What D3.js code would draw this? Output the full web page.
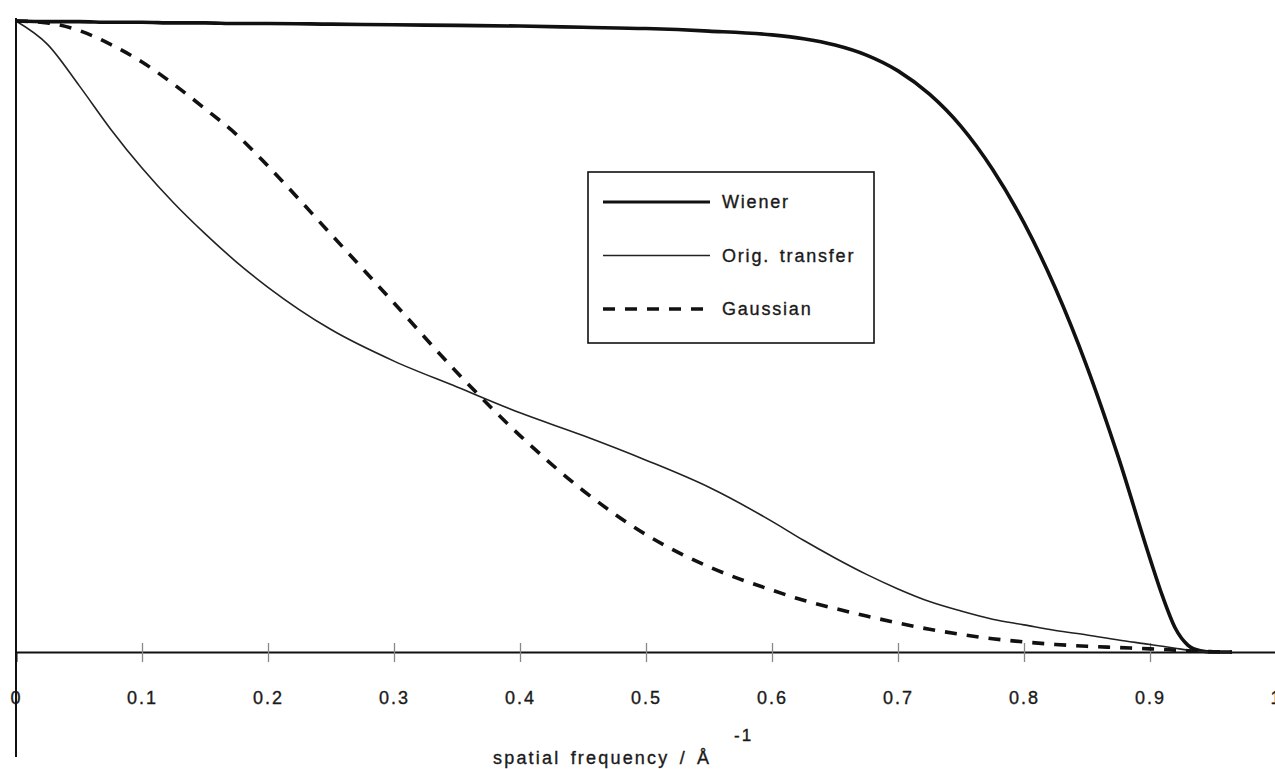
<!DOCTYPE html>
<html>
<head>
<meta charset="utf-8">
<script src="https://cdn.jsdelivr.net/npm/d3@7"></script>
<style>
  body { margin: 0; background: #fff; }
  svg { display: block; }
  text { font-family: "Liberation Sans", Arial, sans-serif; fill: #1a1a1a; stroke: #1a1a1a; stroke-width: 0.35px; }
</style>
</head>
<body>
<svg id="chart"></svg>
<script>
// spatial frequency samples (1/Å)
const freq = [0, 0.025, 0.05, 0.075, 0.1, 0.125, 0.15, 0.175, 0.2, 0.25, 0.3, 0.35, 0.4, 0.45, 0.5,
  0.55, 0.6, 0.625, 0.65, 0.675, 0.7, 0.725, 0.75, 0.775, 0.8, 0.825, 0.85, 0.875, 0.9,
  0.91, 0.92, 0.93, 0.94, 0.95, 0.965];

const wiener = [1, 0.999, 0.999, 0.998, 0.998, 0.997, 0.997, 0.996, 0.996, 0.995, 0.994, 0.993, 0.992, 0.99, 0.988,
  0.984, 0.978, 0.972, 0.962, 0.946, 0.921, 0.884, 0.833, 0.765, 0.68, 0.576, 0.452, 0.308, 0.148,
  0.088, 0.038, 0.011, 0.002, 0, 0];

const origTransfer = [1, 0.963, 0.898, 0.829, 0.767, 0.712, 0.663, 0.618, 0.578, 0.511, 0.461, 0.42, 0.379, 0.343, 0.304,
  0.261, 0.207, 0.177, 0.149, 0.123, 0.1, 0.08, 0.065, 0.052, 0.043, 0.034, 0.027, 0.019, 0.012,
  0.009, 0.006, 0.003, 0.001, 0, 0];

const gaussian = [1, 0.997, 0.985, 0.963, 0.935, 0.9, 0.861, 0.82, 0.77, 0.662, 0.553, 0.443, 0.343, 0.256, 0.186,
  0.135, 0.098, 0.082, 0.069, 0.057, 0.046, 0.036, 0.028, 0.021, 0.016, 0.012, 0.009, 0.007, 0.005,
  0.004, 0.003, 0.002, 0.001, 0.0005, 0];

const xTicks = [0, 0.1, 0.2, 0.3, 0.4, 0.5, 0.6, 0.7, 0.8, 0.9, 1];
const xTickLabels = ["0", "0.1", "0.2", "0.3", "0.4", "0.5", "0.6", "0.7", "0.8", "0.9", "1"];

const seriesNames = ["Wiener", "Orig. transfer", "Gaussian"];

const width = 1275, height = 769;
const svg = d3.select("#chart").attr("width", width).attr("height", height);

const x = d3.scaleLinear().domain([0, 1]).range([16, 1276]);
const y = d3.scaleLinear().domain([0, 1]).range([652, 21]);

const styles = [
  { width: 3.6, dash: null, color: "#111" },
  { width: 1.6, dash: null, color: "#222" },
  { width: 3.6, dash: "12,10", color: "#111" }
];

// x axis
const xAxis = d3.axisBottom(x)
  .tickValues(xTicks)
  .tickFormat((d, i) => xTickLabels[i])
  .tickSizeOuter(0)
  .tickSize(10);

const gx = svg.append("g")
  .attr("transform", `translate(0,${y(0)})`)
  .call(xAxis);

gx.select(".domain").attr("stroke", "#111").attr("stroke-width", 2);
gx.selectAll(".tick line")
  .attr("y1", -9)
  .attr("y2", 10)
  .attr("stroke", "#888")
  .attr("stroke-width", 1.3)
  .attr("opacity", (d) => (d === 0 || d === 1 ? 0 : 1));
gx.selectAll(".tick text")
  .attr("y", 52)
  .attr("dy", 0)
  .attr("font-size", 18)
  .attr("letter-spacing", "2px")
  .attr("fill", "#1a1a1a")
  .attr("font-family", "Liberation Sans, Arial, sans-serif");

// y axis (plain line, runs below the x axis)
svg.append("line")
  .attr("x1", x(0))
  .attr("x2", x(0))
  .attr("y1", y(1) - 3)
  .attr("y2", 757)
  .attr("stroke", "#111")
  .attr("stroke-width", 2);

// axis title
svg.append("text")
  .attr("x", 493)
  .attr("y", 764)
  .attr("font-size", 18)
  .attr("letter-spacing", "2.2px")
  .attr("word-spacing", "3px")
  .text("spatial frequency / Å");

svg.append("text")
  .attr("x", 734)
  .attr("y", 741)
  .attr("font-size", 17)
  .attr("letter-spacing", "2px")
  .text("-1");

// curves
const line = d3.line()
  .x((d) => x(d[0]))
  .y((d) => y(d[1]))
  .curve(d3.curveMonotoneX);

[wiener, origTransfer, gaussian].forEach((vals, i) => {
  svg.append("path")
    .datum(freq.map((f, j) => [f, vals[j]]))
    .attr("d", line)
    .attr("fill", "none")
    .attr("stroke", styles[i].color)
    .attr("stroke-width", styles[i].width)
    .attr("stroke-dasharray", styles[i].dash)
    .attr("stroke-linejoin", "round");
});

// legend
const legend = svg.append("g").attr("transform", "translate(588,172)");
legend.append("rect")
  .attr("width", 286)
  .attr("height", 171)
  .attr("fill", "#fff")
  .attr("stroke", "#111")
  .attr("stroke-width", 1.6);

seriesNames.forEach((name, i) => {
  const ly = 30 + i * 53.5;
  legend.append("line")
    .attr("x1", 15)
    .attr("x2", 122)
    .attr("y1", ly)
    .attr("y2", ly)
    .attr("stroke", styles[i].color)
    .attr("stroke-width", i === 1 ? 1.6 : (i === 0 ? 2.8 : 3.4))
    .attr("stroke-dasharray", styles[i].dash);
  legend.append("text")
    .attr("x", 134)
    .attr("y", ly + 6)
    .attr("font-size", 18)
    .attr("letter-spacing", "1.8px")
    .attr("word-spacing", "3px")
    .text(name);
});
</script>
</body>
</html>
